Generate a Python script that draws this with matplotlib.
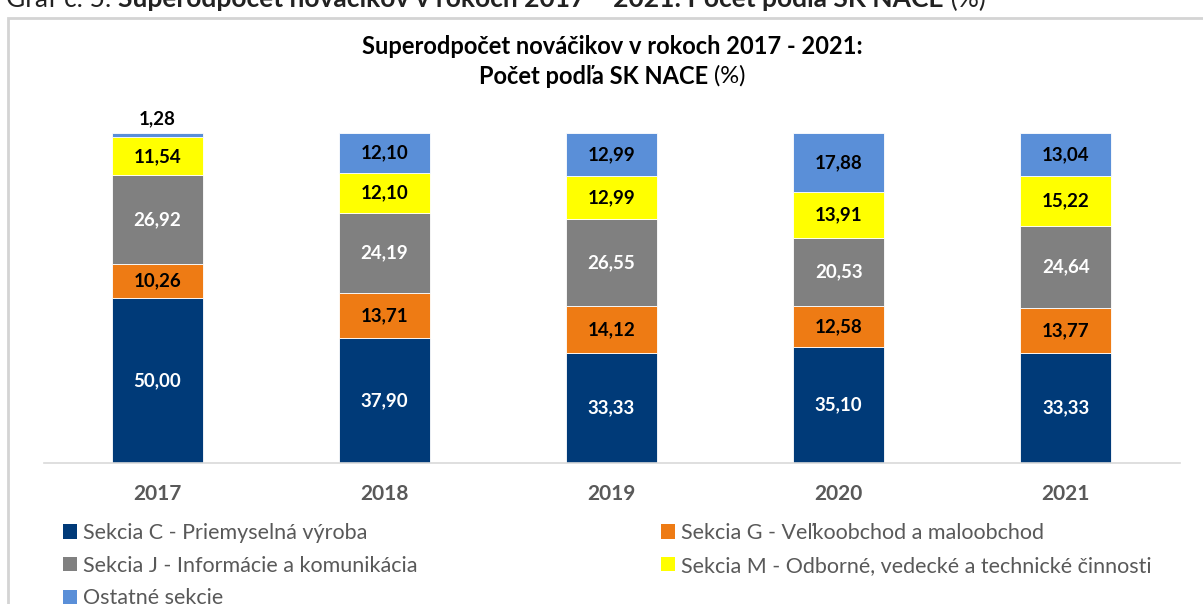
import matplotlib

matplotlib.use("Agg")
import matplotlib.pyplot as plt
import numpy as np
from matplotlib.patches import Patch, Rectangle

plt.rcParams["font.family"] = ["Lato", "DejaVu Sans"]

years = ["2017", "2018", "2019", "2020", "2021"]
sekcia_c = [50.00, 37.90, 33.33, 35.10, 33.33]
sekcia_g = [10.26, 13.71, 14.12, 12.58, 13.77]
sekcia_j = [26.92, 24.19, 26.55, 20.53, 24.64]
sekcia_m = [11.54, 12.10, 12.99, 13.91, 15.22]
ostatne = [1.28, 12.10, 12.99, 17.88, 13.04]

series_names = [
    "Sekcia C - Priemyselná výroba",
    "Sekcia G - Veľkoobchod a maloobchod",
    "Sekcia J - Informácie a komunikácia",
    "Sekcia M - Odborné, vedecké a technické činnosti",
    "Ostatné sekcie",
]
series_values = [sekcia_c, sekcia_g, sekcia_j, sekcia_m, ostatne]
colors = ["#003A78", "#EE7B14", "#808080", "#FFFF00", "#5A8FD8"]
label_colors = ["white", "black", "white", "black", "black"]

W, H = 1203, 604
fig = plt.figure(figsize=(W / 100, H / 100), dpi=100)


def fx(px):
    return px / W


def fy(py):
    return 1 - py / H


# chart frame (cut by the page edge on the right and bottom)
fig.patches.append(
    Rectangle((fx(8), -0.2), 1.2, fy(18) + 0.2, transform=fig.transFigure,
              fill=False, edgecolor="#D4D4D4", linewidth=2.0)
)

ax = fig.add_axes([fx(43.5), fy(463), fx(1179.5) - fx(43.5), (463 - 133) / H])
x = np.arange(len(years))
bottom = np.zeros(len(years))
for values, color, tcolor in zip(series_values, colors, label_colors):
    values = np.asarray(values)
    ax.bar(x, values, width=0.4, bottom=bottom, color=color,
           edgecolor="white", linewidth=0.6)
    for xi, b, v in zip(x, bottom, values):
        text = f"{v:.2f}".replace(".", ",")
        if v < 5:
            ax.annotate(text, (xi, b + v), xytext=(0, 4), textcoords="offset points",
                        ha="center", va="bottom", fontsize=13.5,
                        fontweight="bold", color="black")
        else:
            ax.text(xi, b + v / 2, text, ha="center", va="center",
                    fontsize=13.5, fontweight="bold", color=tcolor)
    bottom += values

ax.set_xlim(-0.5, len(years) - 0.5)
ax.set_ylim(0, 100)
ax.set_yticks([])
ax.set_xticks(x, years)
ax.tick_params(axis="x", length=0, pad=15, labelsize=15, labelcolor="#595959")
for label in ax.get_xticklabels():
    label.set_fontweight("bold")
for side in ("top", "left", "right"):
    ax.spines[side].set_visible(False)
ax.spines["bottom"].set_color("#D9D9D9")
ax.spines["bottom"].set_linewidth(1.2)

order = [0, 2, 4, 1, 3]
handles = [Patch(facecolor=colors[i], edgecolor="none") for i in order]
fig.legend(handles, [series_names[i] for i in order], loc="upper left",
           bbox_to_anchor=(fx(63), fy(523)), ncol=2, frameon=False,
           fontsize=15.5, labelcolor="#595959", handlelength=0.65,
           handleheight=0.65, handletextpad=0.28, labelspacing=0.59,
           columnspacing=11.3, borderpad=0, borderaxespad=0)


def pieces(parts, y, x, ha="center", size=14, color="black", va="center"):
    # draw a line made of normal/bold pieces
    fig.canvas.draw()
    renderer = fig.canvas.get_renderer()
    texts = []
    for s, weight in parts:
        t = fig.text(0, fy(y), s, fontsize=size, fontweight=weight,
                     color=color, va=va, ha="left")
        texts.append(t)
    widths = [t.get_window_extent(renderer).width for t in texts]
    total = sum(widths)
    start = x - total / 2 if ha == "center" else x
    for t, w in zip(texts, widths):
        t.set_x(fx(start))
        start += w


pieces([("Superodpočet nováčikov v rokoch 2017 - 2021:", "bold")], 47, 612, size=17)
pieces([("Počet podľa SK NACE", "bold"), (" (%)", "normal")], 76, 612, size=17)
pieces([("Graf č. 5: ", "normal"),
        ("Superodpočet nováčikov v rokoch 2017 – 2021: Počet podľa SK NACE", "bold"),
        (" (%)", "normal")], 7, 6, ha="left", size=19, color="#222222",
       va="baseline")

fig.savefig("out.png", dpi=100)
